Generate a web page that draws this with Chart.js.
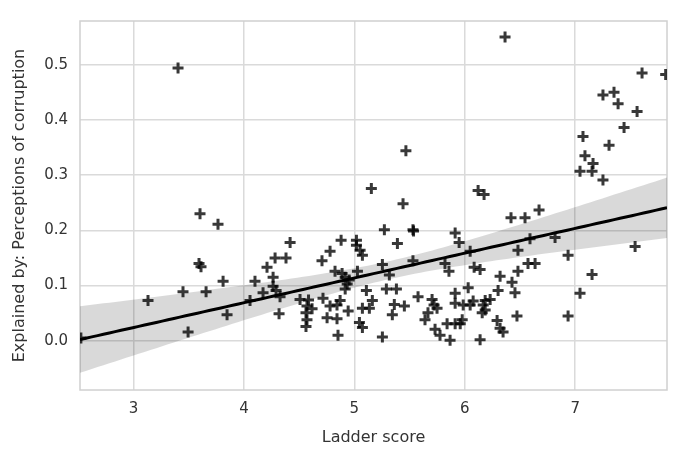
<!DOCTYPE html>
<html>
<head>
<meta charset="utf-8">
<script src="https://cdn.jsdelivr.net/npm/chart.js@4.4.0/dist/chart.umd.min.js"></script>
<style>
  html, body { margin: 0; padding: 0; background: #fff; }
</style>
</head>
<body>
<canvas id="myChart" width="677" height="450"></canvas>
<script>
// Datos (Ladder score vs Explained by: Perceptions of corruption)
var ladderScore = [
  2.523, 3.131, 3.403, 3.448, 3.494, 3.602, 3.593, 3.611, 3.657, 3.765,
  3.811, 3.847, 4.055, 4.100, 4.173, 4.209, 4.264, 4.282, 4.264, 4.291,
  4.327, 4.318, 4.381, 4.418, 4.508, 4.585, 4.571, 4.617, 4.562, 4.571,
  4.562, 4.707, 4.716, 4.780, 4.753, 4.780, 4.843, 4.843, 4.852, 4.880,
  4.825, 4.889, 4.917, 4.953, 4.935, 4.917, 4.871, 4.944, 5.019, 5.019,
  5.052, 5.073, 5.028, 5.109, 5.163, 5.073, 5.136, 5.046, 5.073, 5.154,
  5.254, 5.317, 5.290, 5.381, 5.362, 5.453, 5.344, 5.254, 5.272, 5.390,
  5.467, 5.441, 5.531, 5.536, 5.531, 5.577, 5.704, 5.722, 5.749, 5.667,
  5.640, 5.731, 5.776, 5.867, 5.840, 5.913, 5.959, 5.977, 5.913, 5.913,
  5.986, 6.049, 6.031, 5.821, 5.857, 5.913, 5.949, 6.049, 6.085, 6.139,
  6.121, 6.175, 6.076, 6.185, 6.230, 6.167, 6.185, 6.158, 6.139, 6.302,
  6.293, 6.320, 6.347, 6.320, 6.428, 6.455, 6.473, 6.482, 6.482, 6.573,
  6.637, 6.591, 6.365, 6.419, 6.546, 6.673, 6.818, 6.936, 6.936, 7.044,
  7.153, 7.543, 7.071, 7.089, 7.162, 7.044, 7.153, 7.252, 7.307, 7.252,
  7.352, 7.389, 7.443, 7.561, 7.606, 7.820
];
var corruption = [
  0.005, 0.073, 0.494, 0.089, 0.016, 0.230, 0.140, 0.134, 0.089, 0.211,
  0.108, 0.047, 0.073, 0.108, 0.087, 0.133, 0.115, 0.150, 0.099, 0.091,
  0.080, 0.049, 0.150, 0.178, 0.075, 0.074, 0.063, 0.058, 0.051, 0.038,
  0.026, 0.145, 0.077, 0.162, 0.042, 0.063, 0.065, 0.040, 0.010, 0.182,
  0.126, 0.122, 0.115, 0.110, 0.103, 0.094, 0.073, 0.054, 0.182, 0.173,
  0.164, 0.155, 0.126, 0.091, 0.073, 0.059, 0.059, 0.033, 0.024, 0.276,
  0.138, 0.119, 0.094, 0.094, 0.066, 0.063, 0.047, 0.007, 0.201, 0.176,
  0.344, 0.248, 0.201, 0.199, 0.145, 0.080, 0.075, 0.065, 0.059, 0.051,
  0.038, 0.021, 0.010, 0.001, 0.031, 0.031, 0.031, 0.038, 0.086, 0.068,
  0.065, 0.065, 0.096, 0.140, 0.126, 0.195, 0.178, 0.162, 0.133, 0.129,
  0.272, 0.265, 0.072, 0.073, 0.075, 0.065, 0.056, 0.051, 0.002, 0.091,
  0.037, 0.023, 0.016, 0.117, 0.106, 0.087, 0.045, 0.126, 0.164, 0.140,
  0.140, 0.185, 0.550, 0.223, 0.223, 0.237, 0.187, 0.155, 0.045, 0.086,
  0.120, 0.171, 0.370, 0.335, 0.321, 0.307, 0.307, 0.291, 0.354, 0.445,
  0.450, 0.429, 0.386, 0.415, 0.485, 0.482
];
var xTicks = [3, 4, 5, 6, 7];
var yTicks = [0.0, 0.1, 0.2, 0.3, 0.4, 0.5];
var xLimits = [2.515, 7.832];
var yLimits = [-0.089, 0.579];

// Puntos del scatter
var points = ladderScore.map(function(x, i) { return {x: x, y: corruption[i]}; });

// Regresion lineal (minimos cuadrados)
var n = ladderScore.length;
var meanX = ladderScore.reduce(function(a, b) { return a + b; }, 0) / n;
var meanY = corruption.reduce(function(a, b) { return a + b; }, 0) / n;
var sxx = 0, sxy = 0;
for (var i = 0; i < n; i++) {
  sxx += (ladderScore[i] - meanX) * (ladderScore[i] - meanX);
  sxy += (ladderScore[i] - meanX) * (corruption[i] - meanY);
}
var slope = sxy / sxx;
var intercept = meanY - slope * meanX;

// Intervalo de confianza del 95% con error robusto (parecido al bootstrap de seaborn)
var sE2 = 0, sDE2 = 0, sD2E2 = 0;
for (var i = 0; i < n; i++) {
  var d = ladderScore[i] - meanX;
  var e = corruption[i] - (intercept + slope * ladderScore[i]);
  sE2 += e * e;
  sDE2 += d * e * e;
  sD2E2 += d * d * e * e;
}

var fitLine = [], upperBand = [], lowerBand = [];
var steps = 100;
for (var k = 0; k <= steps; k++) {
  var x = xLimits[0] + (xLimits[1] - xLimits[0]) * k / steps;
  var yh = intercept + slope * x;
  var dx = x - meanX;
  var v = sE2 / (n * n) + 2 * dx * sDE2 / (n * sxx) + dx * dx * sD2E2 / (sxx * sxx);
  var half = 1.96 * Math.sqrt(Math.max(v, 0));
  fitLine.push({x: x, y: yh});
  upperBand.push({x: x, y: yh + half});
  lowerBand.push({x: x, y: yh - half});
}

var fontFamily = "'DejaVu Sans', sans-serif";
var textColor = '#333333';
var gridColor = '#dadada';

// Marco gris alrededor del area del grafico (estilo whitegrid)
var framePlugin = {
  id: 'frame',
  beforeDatasetsDraw: function(chart) {
    var a = chart.chartArea, c = chart.ctx;
    c.save();
    c.strokeStyle = '#d0d0d0';
    c.lineWidth = 1.5;
    c.strokeRect(a.left, a.top, a.right - a.left, a.bottom - a.top);
    c.restore();
  }
};

var ctx = document.getElementById('myChart').getContext('2d');
var myChart = new Chart(ctx, {
  type: 'scatter',
  data: {
    datasets: [{
      label: 'datos',
      data: points,
      pointStyle: 'cross',
      pointRadius: 5.5,
      pointBorderWidth: 3,
      borderColor: 'rgba(0,0,0,0.78)',
      backgroundColor: 'rgba(0,0,0,0.78)',
      order: 3
    }, {
      type: 'line',
      label: 'ajuste',
      data: fitLine,
      borderColor: '#000000',
      borderWidth: 3,
      pointRadius: 0,
      fill: false,
      order: 1
    }, {
      type: 'line',
      label: 'ic sup',
      data: upperBand,
      borderWidth: 0,
      borderColor: 'rgba(0,0,0,0)',
      pointRadius: 0,
      backgroundColor: 'rgba(0,0,0,0.15)',
      fill: '+1',
      order: 2
    }, {
      type: 'line',
      label: 'ic inf',
      data: lowerBand,
      borderWidth: 0,
      borderColor: 'rgba(0,0,0,0)',
      pointRadius: 0,
      fill: false,
      order: 2
    }]
  },
  options: {
    responsive: false,
    animation: false,
    layout: { padding: { top: 7, right: 10, left: 0, bottom: 0 } },
    plugins: {
      legend: { display: false },
      tooltip: { enabled: false }
    },
    scales: {
      x: {
        type: 'linear',
        min: xLimits[0],
        max: xLimits[1],
        afterFit: function(scale) { scale.height = 60; },
        afterBuildTicks: function(scale) {
          scale.ticks = xTicks.map(function(v) { return {value: v}; });
        },
        ticks: {
          color: textColor,
          font: { family: fontFamily, size: 15 },
          padding: 10,
          callback: function(v) { return String(v); }
        },
        grid: { color: gridColor, lineWidth: 1.5, drawTicks: false },
        border: { display: false },
        title: {
          display: true,
          text: 'Ladder score',
          color: textColor,
          font: { family: fontFamily, size: 16 },
          padding: { top: 0, bottom: 3 }
        }
      },
      y: {
        type: 'linear',
        min: yLimits[0],
        max: yLimits[1],
        afterFit: function(scale) { scale.width = 80; },
        afterBuildTicks: function(scale) {
          scale.ticks = yTicks.map(function(v) { return {value: v}; });
        },
        ticks: {
          color: textColor,
          font: { family: fontFamily, size: 15 },
          padding: 12,
          callback: function(v) { return v.toFixed(1); }
        },
        grid: { color: gridColor, lineWidth: 1.5, drawTicks: false },
        border: { display: false },
        title: {
          display: true,
          text: 'Explained by: Perceptions of corruption',
          color: textColor,
          font: { family: fontFamily, size: 16 },
          padding: { top: 10, bottom: 0 }
        }
      }
    }
  },
  plugins: [framePlugin]
});
</script>
</body>
</html>
